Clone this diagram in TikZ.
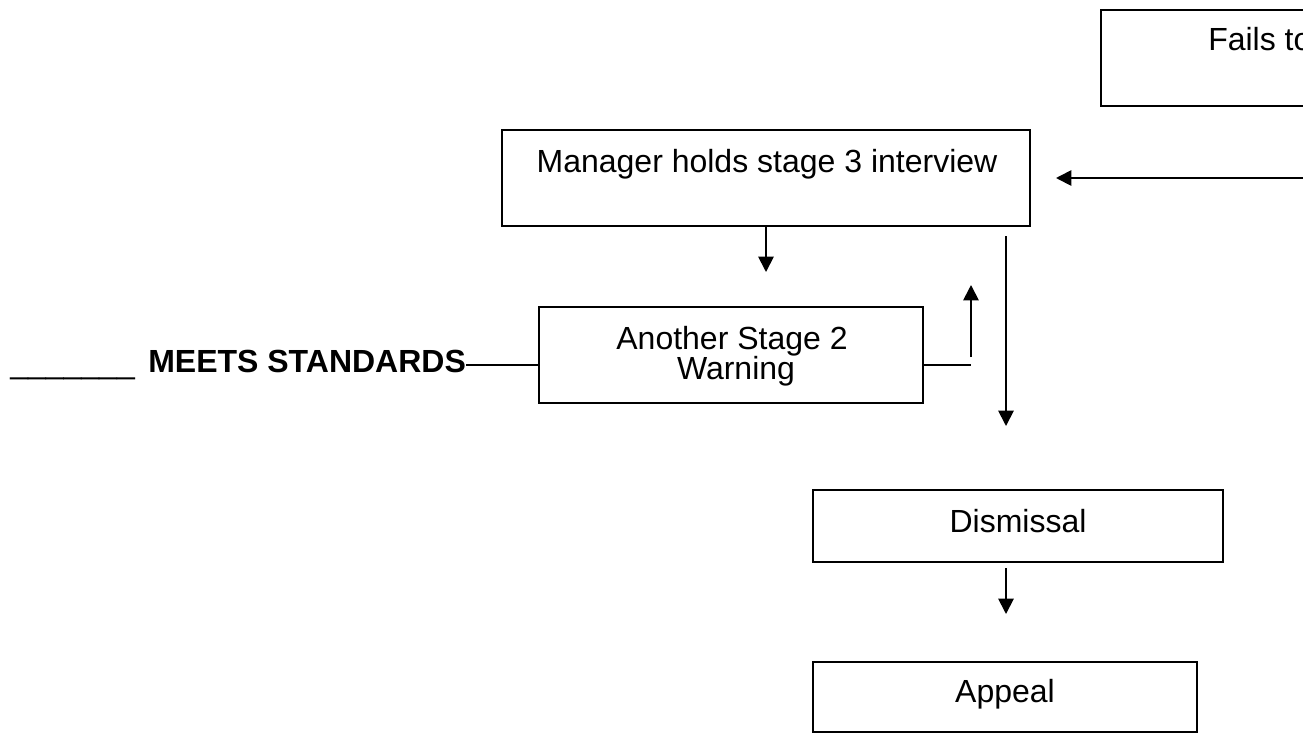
\documentclass[tikz,border=0pt]{standalone}
\usepackage{fontspec}
\setmainfont{Liberation Sans}
\usetikzlibrary{arrows.meta}
\tikzset{
  box/.style={draw=black, line width=1.5pt, rectangle, inner sep=0pt},
  txt/.style={inner sep=0pt, font=\fontsize{24pt}{22.5pt}\selectfont},
  conn/.style={draw=black, line width=1.35pt},
  arr/.style={conn, -{Triangle[width=11.5pt, length=11.5pt]}}
}
\begin{document}
\begin{tikzpicture}[x=0.75pt, y=-0.75pt]
\useasboundingbox (0,0) rectangle (1303,733);
\clip (0,0) rectangle (1303,733);
\fill[white] (0,0) rectangle (1303,733);
% boxes
\node[box, minimum width=300pt, minimum height=72pt] (fails) at (1301,58) {};
\node[box, minimum width=396pt, minimum height=72pt] (mgr) at (766,178) {};
\node[box, minimum width=288pt, minimum height=72pt] (s2) at (731,355) {};
\node[box, minimum width=307.5pt, minimum height=54pt] (dis) at (1018,526) {};
\node[box, minimum width=288pt, minimum height=52.5pt] (app) at (1005,697) {};
% texts
\node[txt, anchor=base west] (failst) at (1208,50) {Fails to};
\node[txt, anchor=base] (mgrt) at (767,172) {Manager holds stage 3 interview};
\node[txt, anchor=base] (s2a) at (732,349) {Another Stage 2};
\node[txt, anchor=base] (s2b) at (736,379) {Warning};
\node[txt, anchor=base] (dist) at (1018,532) {Dismissal};
\node[txt, anchor=base] (appt) at (1005,702) {Appeal};
\node[txt, anchor=base west] (blank) at (10,373) {\_\_\_\_\_\_\_};
\node[txt, anchor=base west, font=\fontsize{24pt}{22.5pt}\selectfont\bfseries] (ms) at (148,372) {MEETS STANDARDS};
% coordinates
\coordinate (offR) at (1320,178);
\coordinate (c1) at (971,365);
\coordinate (c2) at (971,357);
\coordinate (c3) at (971,285);
\coordinate (v) at (1006,0);
% connectors
\draw[arr, shorten >=18.75pt] (offR) -- (mgr.east);
\draw[arr, shorten >=25.5pt] (mgr.south) -- (mgr.south |- s2.north);
\draw[conn] (ms.east |- c1) -- (s2.west |- c1);
\draw[conn] (s2.east |- c1) -- (c1);
\draw[arr] (c2) -- (c3);
\draw[arr, shorten <=6.75pt, shorten >=47.25pt] (mgr.south -| v) -- (dis.north -| v);
\draw[arr, shorten <=3.75pt, shorten >=35.25pt] (dis.south -| v) -- (app.north -| v);
\end{tikzpicture}
\end{document}
